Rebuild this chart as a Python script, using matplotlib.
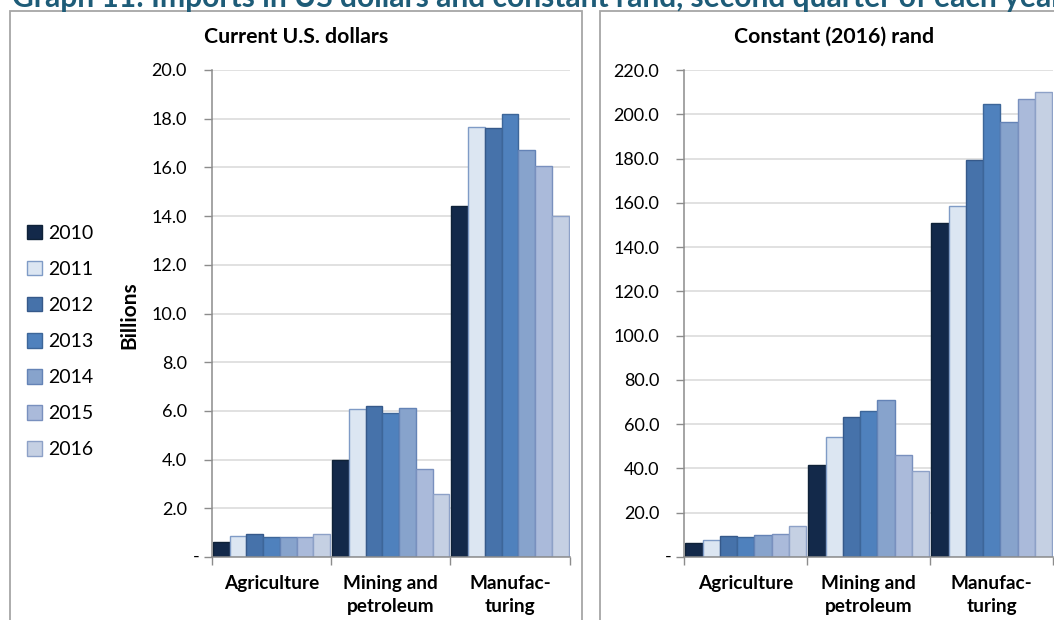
import matplotlib
matplotlib.use("Agg")
import matplotlib.pyplot as plt
from matplotlib.patches import Rectangle, Patch
from matplotlib.ticker import FixedLocator, FuncFormatter
import numpy as np

plt.rcParams['font.family'] = ['Lato', 'DejaVu Sans']

# ---- data -------------------------------------------------------------
categories = ["Agriculture", "Mining and\npetroleum", "Manufac-\nturing"]
years = ["2010", "2011", "2012", "2013", "2014", "2015", "2016"]

# Imports, current U.S. dollars (billions), one list per year:
# [Agriculture, Mining and petroleum, Manufacturing]
usd_2010 = [0.60, 4.00, 14.40]
usd_2011 = [0.87, 6.09, 17.65]
usd_2012 = [0.93, 6.22, 17.63]
usd_2013 = [0.81, 5.93, 18.18]
usd_2014 = [0.84, 6.10, 16.72]
usd_2015 = [0.81, 3.61, 16.07]
usd_2016 = [0.93, 2.59, 14.00]

# Imports, constant (2016) rand (billions)
zar_2010 = [6.3, 41.5, 150.8]
zar_2011 = [7.8, 54.4, 158.6]
zar_2012 = [9.5, 63.1, 179.4]
zar_2013 = [9.2, 66.0, 204.5]
zar_2014 = [9.9, 71.1, 196.4]
zar_2015 = [10.5, 46.0, 206.8]
zar_2016 = [14.0, 38.7, 210.2]

usd_ticks = [0, 2, 4, 6, 8, 10, 12, 14, 16, 18, 20]
zar_ticks = [0, 20, 40, 60, 80, 100, 120, 140, 160, 180, 200, 220]

title = "Graph 11: Imports in US dollars and constant rand, second quarter of each year"
left_title = "Current U.S. dollars"
right_title = "Constant (2016) rand"
ylabel = "Billions"

# ---- styling ----------------------------------------------------------
fills = ["#13294A", "#DCE6F2", "#4672AA", "#4F81BD", "#87A3CC", "#AABADA", "#C5D0E3"]
edges = ["#0F2238", "#7F9BC6", "#36598A", "#3D6699", "#6483B6", "#7990BE", "#8DA1C7"]
axis_grey = "#8C8C8C"
grid_grey = "#D9D9D9"
frame_grey = "#A6A6A6"
title_color = "#1E5C78"

W, H = 1054, 620
fig = plt.figure(figsize=(W / 100, H / 100), dpi=100)


def fx(px):
    return px / W


def fy(py):
    return 1 - py / H


# panel frames
for x0, x1 in [(10, 582.3), (599.7, 1068)]:
    fig.add_artist(Rectangle((fx(x0), fy(660)), fx(x1 - x0), fy(11) - fy(660),
                             transform=fig.transFigure, fill=False,
                             edgecolor=frame_grey, lw=1.3, clip_on=False))

fig.text(fx(12), fy(7), title, ha="left", va="baseline", fontsize=21.6,
         fontweight="bold", color=title_color)

usd_series = [usd_2010, usd_2011, usd_2012, usd_2013, usd_2014, usd_2015, usd_2016]
zar_series = [zar_2010, zar_2011, zar_2012, zar_2013, zar_2014, zar_2015, zar_2016]


def panel(rect, series, ticks, heading, title_x):
    ax = fig.add_axes(rect)
    x = np.arange(len(categories))
    n = len(series)
    bw = 0.1405
    for i, vals in enumerate(series):
        ax.bar(x + (i - (n - 1) / 2) * bw, vals, width=bw, color=fills[i],
               edgecolor=edges[i], linewidth=1.0, zorder=3)
    ax.set_xlim(-0.5, len(categories) - 0.5)
    ax.set_ylim(ticks[0], ticks[-1])

    ax.yaxis.set_major_locator(FixedLocator(ticks))
    ax.yaxis.set_major_formatter(FuncFormatter(lambda v, p: "" if v == 0 else f"{v:.1f}"))
    ax.tick_params(axis="y", direction="out", length=6, width=1, color=axis_grey,
                   labelsize=13, pad=12, labelcolor="#000000")
    ax.grid(axis="y", color=grid_grey, lw=1.1, zorder=0)
    ax.text(-0.035, 0, "-", transform=ax.get_yaxis_transform(), ha="right",
            va="center", fontsize=13)

    ax.xaxis.set_major_locator(FixedLocator(np.arange(len(categories) + 1) - 0.5))
    ax.xaxis.set_major_formatter(FuncFormatter(lambda v, p: ""))
    ax.xaxis.set_minor_locator(FixedLocator(x))
    ax.set_xticklabels(categories, minor=True, fontweight="bold", fontsize=13.7,
                       linespacing=1.45)
    ax.tick_params(axis="x", which="major", direction="out", length=6, width=1,
                   color=axis_grey)
    ax.tick_params(axis="x", which="minor", length=0, pad=13)

    for s in ("top", "right"):
        ax.spines[s].set_visible(False)
    for s in ("left", "bottom"):
        ax.spines[s].set_color(axis_grey)
        ax.spines[s].set_linewidth(1.1)
        ax.spines[s].set_zorder(4)

    fig.text(fx(title_x), fy(37), heading, ha="center", va="center",
             fontsize=15.3, fontweight="bold")
    return ax


axl = panel([fx(212), fy(557), fx(357.5), fy(70) - fy(557)],
            usd_series, usd_ticks, left_title, 296)
axr = panel([fx(684.3), fy(557), fx(369), fy(70) - fy(557)],
            zar_series, zar_ticks, right_title, 834)

fig.text(fx(129), fy(315), ylabel, rotation=90, ha="center", va="center",
         fontsize=15, fontweight="bold")

legend_handles = [Patch(facecolor=fills[i], edgecolor=edges[i], lw=1.0)
                  for i in range(len(years))]
fig.legend(legend_handles, years, loc="upper left",
           bbox_to_anchor=(fx(27), fy(225)), frameon=False, fontsize=14,
           handlelength=0.75, handleheight=0.75, handletextpad=0.35,
           labelspacing=0.98, borderpad=0, borderaxespad=0)

fig.savefig("out.png", dpi=100)
